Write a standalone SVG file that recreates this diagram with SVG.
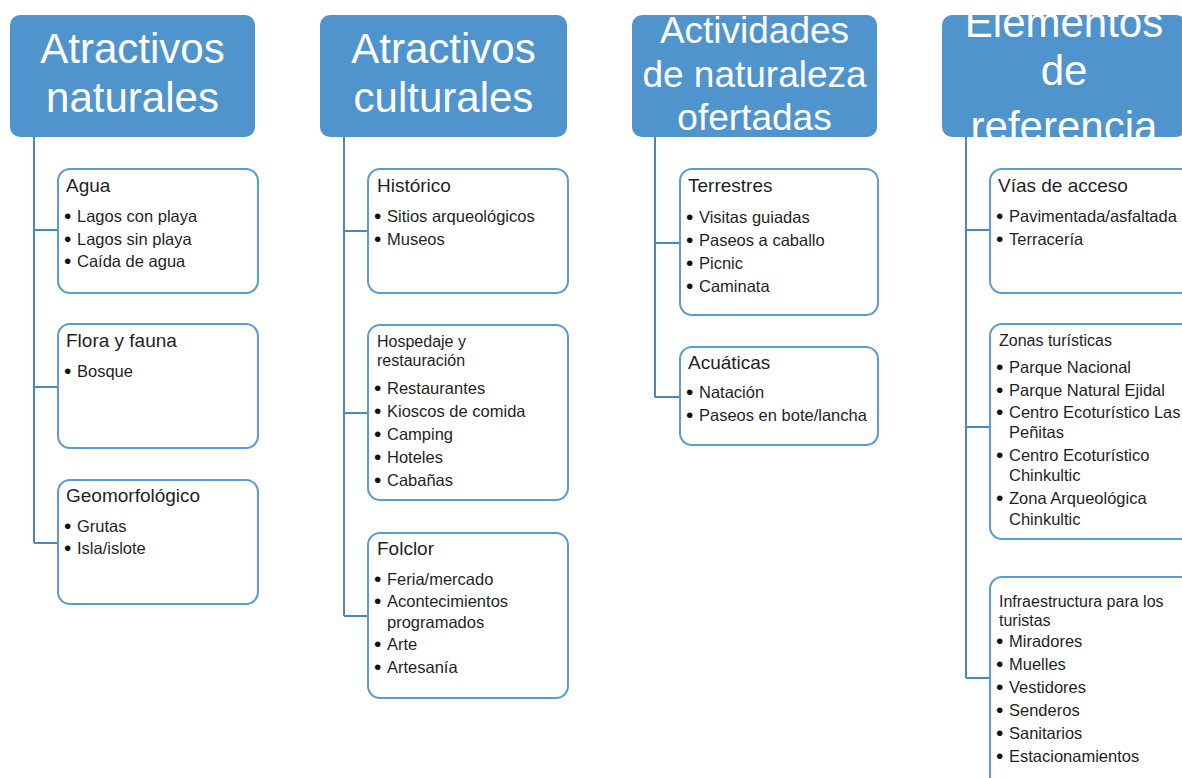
<svg xmlns="http://www.w3.org/2000/svg" width="1182" height="778" viewBox="0 0 1182 778">
<style>
.hdr{fill:#5094CE;}
.ht{fill:#fff;font-family:"Liberation Sans",Arial,sans-serif;font-size:42px;text-anchor:middle;}
.ht3{font-size:37px;}
.box{fill:#fff;stroke:#5B9BD5;stroke-width:2;}
.t{fill:#1f1f1f;font-family:"Liberation Sans",Arial,sans-serif;font-size:19px;}
.ts{fill:#1f1f1f;font-family:"Liberation Sans",Arial,sans-serif;font-size:16px;}
.b{fill:#1f1f1f;font-family:"Liberation Sans",Arial,sans-serif;font-size:16.5px;}
.d{fill:#111;font-family:"Liberation Sans",Arial,sans-serif;font-size:21px;}
.con{fill:none;stroke:#4A86BF;stroke-width:2;}
</style>
<defs>
<clipPath id="c1"><rect x="10" y="15" width="245" height="122" rx="10"/></clipPath>
<clipPath id="c2"><rect x="320" y="15" width="247" height="122" rx="10"/></clipPath>
<clipPath id="c3"><rect x="632" y="15" width="245" height="122" rx="10"/></clipPath>
<clipPath id="c4"><rect x="942" y="15" width="244" height="122" rx="10"/></clipPath>
</defs>
<rect width="1182" height="778" fill="#fff"/>

<g id="connectors">
<path class="con" d="M34 137 V543 M34 230 H58 M34 387 H58 M34 543 H58"/>
<path class="con" d="M344 137 V616 M344 231 H368 M344 413 H368 M344 616 H368"/>
<path class="con" d="M655 137 V397 M655 243 H680 M655 397 H680"/>
<path class="con" d="M966 137 V678 M966 230 H990 M966 427 H990 M966 678 H990"/>
</g>

<g id="h1">
<rect class="hdr" x="10" y="15" width="245" height="122" rx="10"/>
<g clip-path="url(#c1)"><text class="ht" x="132.5" y="63">Atractivos</text><text class="ht" x="132.5" y="112">naturales</text></g>
</g>
<g id="h2">
<rect class="hdr" x="320" y="15" width="247" height="122" rx="10"/>
<g clip-path="url(#c2)"><text class="ht" x="443.5" y="63">Atractivos</text><text class="ht" x="443.5" y="112">culturales</text></g>
</g>
<g id="h3">
<rect class="hdr" x="632" y="15" width="245" height="122" rx="10"/>
<g clip-path="url(#c3)"><text class="ht ht3" x="754.5" y="43">Actividades</text><text class="ht ht3" x="754.5" y="87">de naturaleza</text><text class="ht ht3" x="754.5" y="130">ofertadas</text></g>
</g>
<g id="h4">
<rect class="hdr" x="942" y="15" width="244" height="122" rx="10"/>
<g clip-path="url(#c4)"><text class="ht" x="1064" y="37">Elementos</text><text class="ht" x="1064" y="85">de</text><text class="ht" x="1064" y="141">referencia</text></g>
</g>

<g id="agua">
<rect class="box" x="58" y="169" width="200" height="124" rx="12"/>
<text class="t" x="66" y="192">Agua</text>
<text class="d" x="64" y="223">•</text><text class="b" x="77" y="222">Lagos con playa</text>
<text class="d" x="64" y="245.5">•</text><text class="b" x="77" y="244.5">Lagos sin playa</text>
<text class="d" x="64" y="268">•</text><text class="b" x="77" y="267">Caída de agua</text>
</g>
<g id="flora">
<rect class="box" x="58" y="324" width="200" height="124" rx="12"/>
<text class="t" x="66" y="347">Flora y fauna</text>
<text class="d" x="64" y="378">•</text><text class="b" x="77" y="377">Bosque</text>
</g>
<g id="geo">
<rect class="box" x="58" y="480" width="200" height="124" rx="12"/>
<text class="t" x="66" y="502">Geomorfológico</text>
<text class="d" x="64" y="533">•</text><text class="b" x="77" y="532">Grutas</text>
<text class="d" x="64" y="555">•</text><text class="b" x="77" y="554">Isla/islote</text>
</g>

<g id="historico">
<rect class="box" x="368" y="169" width="200" height="124" rx="12"/>
<text class="t" x="377" y="192">Histórico</text>
<text class="d" x="374" y="223">•</text><text class="b" x="387" y="222">Sitios arqueológicos</text>
<text class="d" x="374" y="245.5">•</text><text class="b" x="387" y="244.5">Museos</text>
</g>
<g id="hospedaje">
<rect class="box" x="368" y="325" width="200" height="175" rx="12"/>
<text class="ts" x="377" y="347">Hospedaje y</text>
<text class="ts" x="377" y="366">restauración</text>
<text class="d" x="374" y="395">•</text><text class="b" x="387" y="394">Restaurantes</text>
<text class="d" x="374" y="418">•</text><text class="b" x="387" y="417">Kioscos de comida</text>
<text class="d" x="374" y="441">•</text><text class="b" x="387" y="440">Camping</text>
<text class="d" x="374" y="464">•</text><text class="b" x="387" y="463">Hoteles</text>
<text class="d" x="374" y="487">•</text><text class="b" x="387" y="486">Cabañas</text>
</g>
<g id="folclor">
<rect class="box" x="368" y="533" width="200" height="165" rx="12"/>
<text class="t" x="377" y="555">Folclor</text>
<text class="d" x="374" y="586">•</text><text class="b" x="387" y="585">Feria/mercado</text>
<text class="d" x="374" y="608">•</text><text class="b" x="387" y="607">Acontecimientos</text>
<text class="b" x="387" y="628">programados</text>
<text class="d" x="374" y="651">•</text><text class="b" x="387" y="650">Arte</text>
<text class="d" x="374" y="674">•</text><text class="b" x="387" y="673">Artesanía</text>
</g>

<g id="terrestres">
<rect class="box" x="680" y="169" width="198" height="146" rx="12"/>
<text class="t" x="688" y="192">Terrestres</text>
<text class="d" x="686" y="223.5">•</text><text class="b" x="699" y="222.5">Visitas guiadas</text>
<text class="d" x="686" y="246.5">•</text><text class="b" x="699" y="245.5">Paseos a caballo</text>
<text class="d" x="686" y="269.5">•</text><text class="b" x="699" y="268.5">Picnic</text>
<text class="d" x="686" y="292.5">•</text><text class="b" x="699" y="291.5">Caminata</text>
</g>
<g id="acuaticas">
<rect class="box" x="680" y="347" width="198" height="98" rx="12"/>
<text class="t" x="688" y="369">Acuáticas</text>
<text class="d" x="686" y="399">•</text><text class="b" x="699" y="398">Natación</text>
<text class="d" x="686" y="422">•</text><text class="b" x="699" y="421">Paseos en bote/lancha</text>
</g>

<g id="vias">
<rect class="box" x="990" y="169" width="210" height="124" rx="12"/>
<text class="t" x="998" y="192">Vías de acceso</text>
<text class="d" x="996" y="223">•</text><text class="b" x="1009" y="222">Pavimentada/asfaltada</text>
<text class="d" x="996" y="245.5">•</text><text class="b" x="1009" y="244.5">Terracería</text>
</g>
<g id="zonas">
<rect class="box" x="990" y="324" width="210" height="215" rx="12"/>
<text class="ts" x="999" y="346">Zonas turísticas</text>
<text class="d" x="996" y="374">•</text><text class="b" x="1009" y="373">Parque Nacional</text>
<text class="d" x="996" y="396.5">•</text><text class="b" x="1009" y="395.5">Parque Natural Ejidal</text>
<text class="d" x="996" y="419">•</text><text class="b" x="1009" y="418">Centro Ecoturístico Las</text>
<text class="b" x="1009" y="438">Peñitas</text>
<text class="d" x="996" y="461.5">•</text><text class="b" x="1009" y="460.5">Centro Ecoturístico</text>
<text class="b" x="1009" y="481">Chinkultic</text>
<text class="d" x="996" y="505">•</text><text class="b" x="1009" y="504">Zona Arqueológica</text>
<text class="b" x="1009" y="525">Chinkultic</text>
</g>
<g id="infra">
<rect class="box" x="990" y="577" width="210" height="230" rx="12"/>
<text class="ts" x="999" y="607">Infraestructura para los</text>
<text class="ts" x="999" y="626">turistas</text>
<text class="d" x="996" y="648">•</text><text class="b" x="1009" y="647">Miradores</text>
<text class="d" x="996" y="671">•</text><text class="b" x="1009" y="670">Muelles</text>
<text class="d" x="996" y="694">•</text><text class="b" x="1009" y="693">Vestidores</text>
<text class="d" x="996" y="717">•</text><text class="b" x="1009" y="716">Senderos</text>
<text class="d" x="996" y="740">•</text><text class="b" x="1009" y="739">Sanitarios</text>
<text class="d" x="996" y="763">•</text><text class="b" x="1009" y="762">Estacionamientos</text>
</g>
</svg>
